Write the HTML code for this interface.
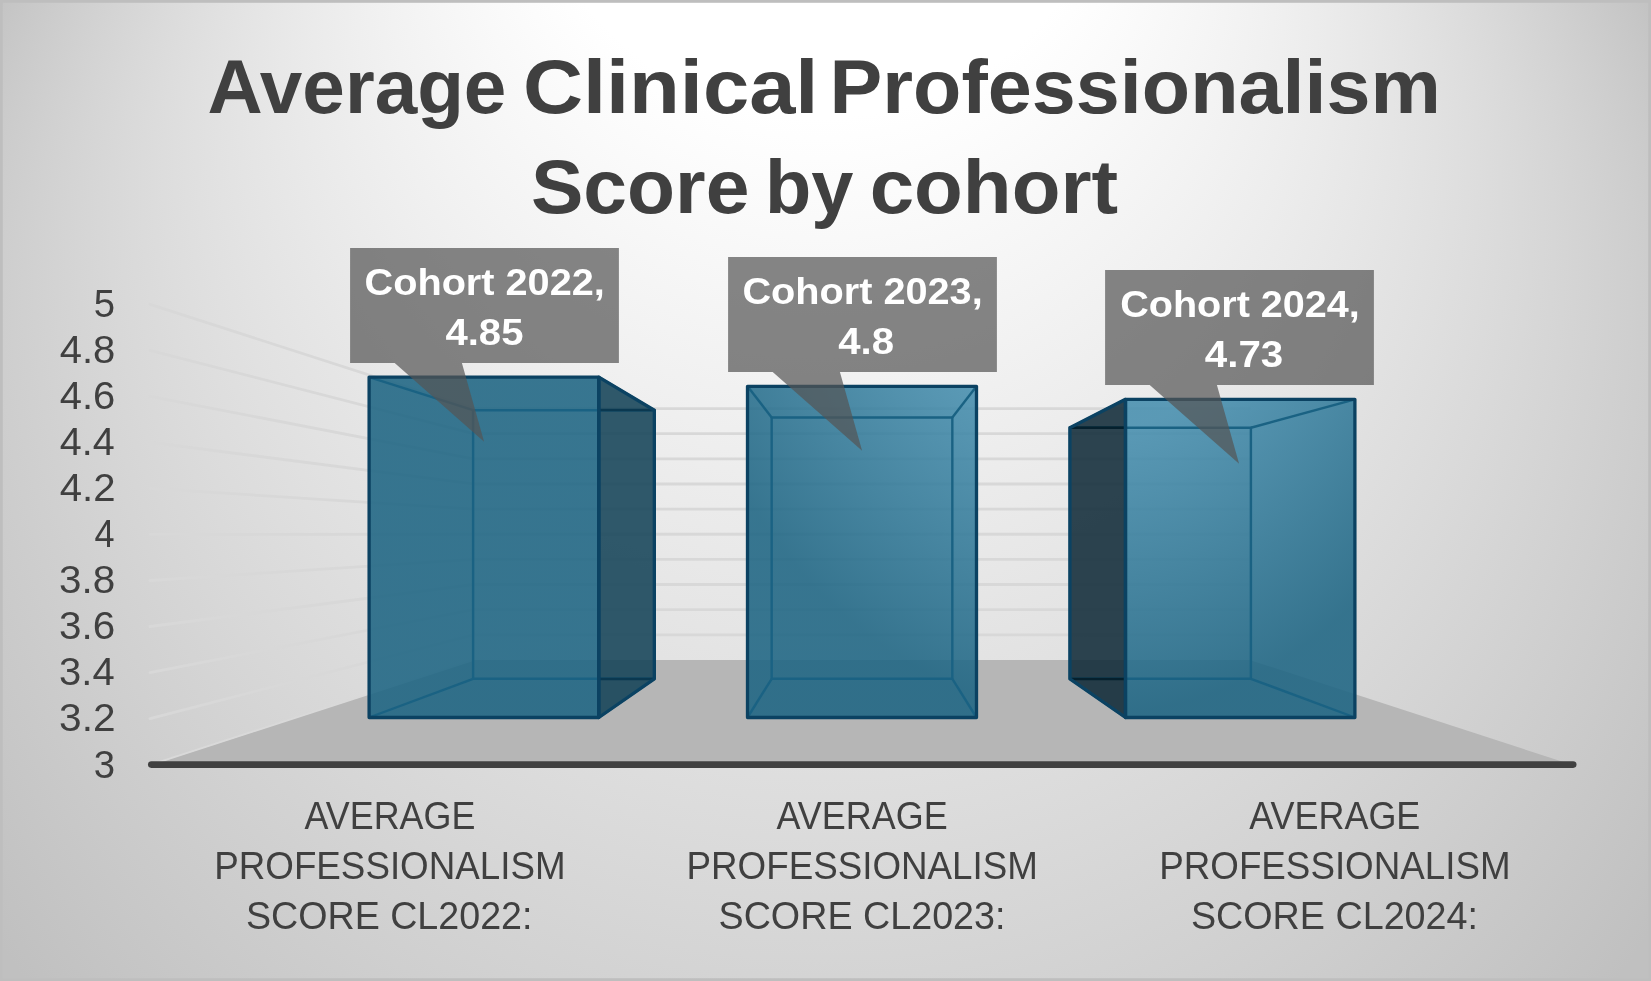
<!DOCTYPE html>
<html><head><meta charset="utf-8"><title>Average Clinical Professionalism Score by cohort</title>
<style>
html,body{margin:0;padding:0;width:1651px;height:981px;overflow:hidden;background:#fff}
svg{display:block;will-change:transform}
text{font-family:"Liberation Sans",Arial,sans-serif}
</style></head><body>
<svg width="1651" height="981" viewBox="0 0 1651 981">
<defs>
<radialGradient id="bg" gradientUnits="userSpaceOnUse" cx="0" cy="0" r="1" fx="0" fy="-0.95" gradientTransform="translate(821.2 453.2) scale(969.1 924.7)">
<stop offset="0" stop-color="#ffffff"/>
<stop offset="0.301" stop-color="#ffffff"/>
<stop offset="1" stop-color="#c0c0c0"/>
</radialGradient>
<radialGradient id="bar" gradientUnits="userSpaceOnUse" cx="0" cy="0" r="1" gradientTransform="translate(1092.9 153.7) scale(438.4 560.8)">
<stop offset="0" stop-color="#468eae"/>
<stop offset="0.4947" stop-color="#468eae"/>
<stop offset="1" stop-color="#1e6583"/>
</radialGradient>
</defs>
<rect x="0" y="0" width="1651" height="981" fill="url(#bg)"/>
<rect x="1.4" y="1.4" width="1648.2" height="978.2" fill="none" stroke="#bebebe" stroke-width="2.8"/>

<g stroke="#d8d8d8" stroke-width="2.8" fill="none" stroke-linecap="round"><line x1="150" y1="718.57" x2="473.25" y2="634.78"/><line x1="473.25" y1="634.78" x2="1249.39" y2="634.78"/><line x1="150" y1="672.54" x2="473.25" y2="609.64"/><line x1="473.25" y1="609.64" x2="1249.39" y2="609.64"/><line x1="150" y1="626.51" x2="473.25" y2="584.51"/><line x1="473.25" y1="584.51" x2="1249.39" y2="584.51"/><line x1="150" y1="580.48" x2="473.25" y2="559.38"/><line x1="473.25" y1="559.38" x2="1249.39" y2="559.38"/><line x1="150" y1="534.45" x2="473.25" y2="534.25"/><line x1="473.25" y1="534.25" x2="1249.39" y2="534.25"/><line x1="150" y1="488.42" x2="473.25" y2="509.11"/><line x1="473.25" y1="509.11" x2="1249.39" y2="509.11"/><line x1="150" y1="442.39" x2="473.25" y2="483.98"/><line x1="473.25" y1="483.98" x2="1249.39" y2="483.98"/><line x1="150" y1="396.36" x2="473.25" y2="458.85"/><line x1="473.25" y1="458.85" x2="1249.39" y2="458.85"/><line x1="150" y1="350.33" x2="473.25" y2="433.72"/><line x1="473.25" y1="433.72" x2="1249.39" y2="433.72"/><line x1="150" y1="304.3" x2="473.25" y2="408.58"/><line x1="473.25" y1="408.58" x2="1249.39" y2="408.58"/></g>
<polygon points="152.5,764.6 1571.5,764.6 1249.39,659.91 474.61,659.91" fill="#b6b6b6"/>
<line x1="151" y1="764.6" x2="473.79" y2="659.91" stroke="#d9d9d9" stroke-width="2"/>
<line x1="151.3" y1="764.6" x2="1573.2" y2="764.6" stroke="#404040" stroke-width="6.6" stroke-linecap="round"/>
<g><polygon points="369.1,377.1 598.8,377.1 598.8,717.5 369.1,717.5" fill="url(#bar)" fill-opacity="0.88"/><polygon points="598.8,377.1 654.34,410.21 654.34,678.78 598.8,717.5" fill="#154358" fill-opacity="0.88"/><g fill="none" stroke="#1a6283" stroke-width="2.4"><polygon points="473.1,410.21 654.34,410.21 654.34,678.78 473.1,678.78"/><line x1="369.1" y1="377.1" x2="473.1" y2="410.21"/><line x1="598.8" y1="377.1" x2="654.34" y2="410.21"/><line x1="598.8" y1="717.5" x2="654.34" y2="678.78"/><line x1="369.1" y1="717.5" x2="473.1" y2="678.78"/></g><g stroke="#0a3850" stroke-width="2.8"><line x1="598.8" y1="410.21" x2="654.34" y2="410.21"/><line x1="598.8" y1="678.78" x2="654.34" y2="678.78"/></g><g fill="none" stroke="#0b4262" stroke-width="3.3" stroke-linejoin="round"><polygon points="369.1,377.1 598.8,377.1 598.8,717.5 369.1,717.5"/><polygon points="598.8,377.1 654.34,410.21 654.34,678.78 598.8,717.5"/></g></g>
<g><polygon points="747.5,386.3 976.5,386.3 976.5,717.5 747.5,717.5" fill="url(#bar)" fill-opacity="0.88"/><g fill="none" stroke="#1a6283" stroke-width="2.4"><polygon points="771.66,417.46 952.34,417.46 952.34,678.78 771.66,678.78"/><line x1="747.5" y1="386.3" x2="771.66" y2="417.46"/><line x1="976.5" y1="386.3" x2="952.34" y2="417.46"/><line x1="976.5" y1="717.5" x2="952.34" y2="678.78"/><line x1="747.5" y1="717.5" x2="771.66" y2="678.78"/></g><g fill="none" stroke="#0b4262" stroke-width="3.3" stroke-linejoin="round"><polygon points="747.5,386.3 976.5,386.3 976.5,717.5 747.5,717.5"/></g></g>
<g><polygon points="1125.5,399.3 1354.9,399.3 1354.9,717.5 1125.5,717.5" fill="url(#bar)" fill-opacity="0.88"/><polygon points="1125.5,399.3 1069.9,427.72 1069.9,678.78 1125.5,717.5" fill="#112b39" fill-opacity="0.88"/><g fill="none" stroke="#1a6283" stroke-width="2.4"><polygon points="1069.9,427.72 1250.9,427.72 1250.9,678.78 1069.9,678.78"/><line x1="1125.5" y1="399.3" x2="1069.9" y2="427.72"/><line x1="1354.9" y1="399.3" x2="1250.9" y2="427.72"/><line x1="1354.9" y1="717.5" x2="1250.9" y2="678.78"/><line x1="1125.5" y1="717.5" x2="1069.9" y2="678.78"/></g><g stroke="#05202d" stroke-width="2.8"><line x1="1069.9" y1="427.72" x2="1125.5" y2="427.72"/><line x1="1069.9" y1="678.78" x2="1125.5" y2="678.78"/></g><g fill="none" stroke="#0b4262" stroke-width="3.3" stroke-linejoin="round"><polygon points="1125.5,399.3 1354.9,399.3 1354.9,717.5 1125.5,717.5"/><polygon points="1125.5,399.3 1069.9,427.72 1069.9,678.78 1125.5,717.5"/></g></g>
<path d="M350.1,248.1 H618.9 V362.9 H461.9 L484.1,441.7 L394.7,362.9 H350.1 Z" fill="#545454" fill-opacity="0.71"/>
<text x="364.51" y="294.60" font-size="37" font-weight="bold" fill="#ffffff" textLength="240.36" lengthAdjust="spacingAndGlyphs">Cohort 2022,</text>
<text x="445.40" y="344.80" font-size="37" font-weight="bold" fill="#ffffff" textLength="78.06" lengthAdjust="spacingAndGlyphs">4.85</text>
<path d="M728.1,257.1 H996.9 V371.9 H839.9 L862.1,450.7 L772.7,371.9 H728.1 Z" fill="#545454" fill-opacity="0.71"/>
<text x="742.41" y="303.60" font-size="37" font-weight="bold" fill="#ffffff" textLength="240.26" lengthAdjust="spacingAndGlyphs">Cohort 2023,</text>
<text x="838.20" y="353.80" font-size="37" font-weight="bold" fill="#ffffff" textLength="55.81" lengthAdjust="spacingAndGlyphs">4.8</text>
<path d="M1105.1,270.1 H1373.9 V384.9 H1216.9 L1239.1,463.7 L1149.7,384.9 H1105.1 Z" fill="#545454" fill-opacity="0.71"/>
<text x="1120.22" y="316.60" font-size="37" font-weight="bold" fill="#ffffff" textLength="239.65" lengthAdjust="spacingAndGlyphs">Cohort 2024,</text>
<text x="1204.80" y="366.80" font-size="37" font-weight="bold" fill="#ffffff" textLength="78.47" lengthAdjust="spacingAndGlyphs">4.73</text>
<text x="207.49" y="112.50" font-size="76" font-weight="bold" fill="#404040" textLength="298.87" lengthAdjust="spacingAndGlyphs">Average</text><text x="522.93" y="112.50" font-size="76" font-weight="bold" fill="#404040" textLength="295.53" lengthAdjust="spacingAndGlyphs">Clinical</text><text x="829.46" y="112.50" font-size="76" font-weight="bold" fill="#404040" textLength="611.42" lengthAdjust="spacingAndGlyphs">Professionalism</text><text x="530.94" y="213.40" font-size="76" font-weight="bold" fill="#404040" textLength="218.46" lengthAdjust="spacingAndGlyphs">Score</text><text x="764.97" y="213.40" font-size="76" font-weight="bold" fill="#404040" textLength="88.46" lengthAdjust="spacingAndGlyphs">by</text><text x="869.71" y="213.40" font-size="76" font-weight="bold" fill="#404040" textLength="248.37" lengthAdjust="spacingAndGlyphs">cohort</text>
<text x="93.86" y="777.50" font-size="38" fill="#404040" textLength="21.31" lengthAdjust="spacingAndGlyphs">3</text><text x="59.08" y="731.47" font-size="38" fill="#404040" textLength="56.46" lengthAdjust="spacingAndGlyphs">3.2</text><text x="59.10" y="685.44" font-size="38" fill="#404040" textLength="55.50" lengthAdjust="spacingAndGlyphs">3.4</text><text x="59.09" y="639.41" font-size="38" fill="#404040" textLength="56.14" lengthAdjust="spacingAndGlyphs">3.6</text><text x="59.09" y="593.38" font-size="38" fill="#404040" textLength="56.14" lengthAdjust="spacingAndGlyphs">3.8</text><text x="94.49" y="547.35" font-size="38" fill="#404040" textLength="20.04" lengthAdjust="spacingAndGlyphs">4</text><text x="59.70" y="501.32" font-size="38" fill="#404040" textLength="55.82" lengthAdjust="spacingAndGlyphs">4.2</text><text x="59.71" y="455.29" font-size="38" fill="#404040" textLength="54.88" lengthAdjust="spacingAndGlyphs">4.4</text><text x="59.70" y="409.26" font-size="38" fill="#404040" textLength="55.50" lengthAdjust="spacingAndGlyphs">4.6</text><text x="59.70" y="363.23" font-size="38" fill="#404040" textLength="55.50" lengthAdjust="spacingAndGlyphs">4.8</text><text x="93.77" y="317.20" font-size="38" fill="#404040" textLength="21.31" lengthAdjust="spacingAndGlyphs">5</text>
<text x="304.61" y="829.10" font-size="38.6" fill="#404040" textLength="170.75" lengthAdjust="spacingAndGlyphs">AVERAGE</text><text x="214.27" y="878.60" font-size="38.6" fill="#404040" textLength="351.27" lengthAdjust="spacingAndGlyphs">PROFESSIONALISM</text><text x="245.91" y="929.20" font-size="38.6" fill="#404040" textLength="286.58" lengthAdjust="spacingAndGlyphs">SCORE CL2022:</text><text x="776.51" y="829.10" font-size="38.6" fill="#404040" textLength="171.16" lengthAdjust="spacingAndGlyphs">AVERAGE</text><text x="686.57" y="878.60" font-size="38.6" fill="#404040" textLength="351.27" lengthAdjust="spacingAndGlyphs">PROFESSIONALISM</text><text x="718.50" y="929.20" font-size="38.6" fill="#404040" textLength="286.99" lengthAdjust="spacingAndGlyphs">SCORE CL2023:</text><text x="1249.21" y="829.10" font-size="38.6" fill="#404040" textLength="171.16" lengthAdjust="spacingAndGlyphs">AVERAGE</text><text x="1159.27" y="878.60" font-size="38.6" fill="#404040" textLength="351.27" lengthAdjust="spacingAndGlyphs">PROFESSIONALISM</text><text x="1190.90" y="929.20" font-size="38.6" fill="#404040" textLength="287.09" lengthAdjust="spacingAndGlyphs">SCORE CL2024:</text>
</svg>
</body></html>
